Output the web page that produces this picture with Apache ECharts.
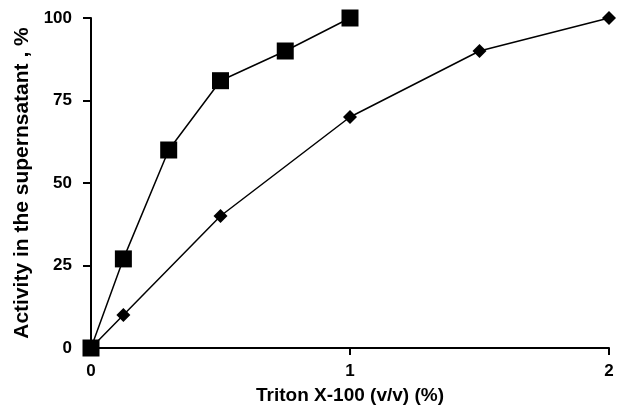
<!DOCTYPE html>
<html><head><meta charset="utf-8">
<script src="https://cdn.jsdelivr.net/npm/echarts@6/dist/echarts.min.js"></script>
<style>html,body{margin:0;padding:0;background:#fff}#c{width:617px;height:417px}</style>
</head><body><div id="c"></div>
<script>
const squareX = [0, 0.125, 0.3, 0.5, 0.75, 1];
const squareY = [0, 27, 60, 81, 90, 100];
const diamondX = [0, 0.125, 0.5, 1, 1.5, 2];
const diamondY = [0, 10, 40, 70, 90, 100];
const xTicks = [0, 1, 2];
const yTicks = [0, 25, 50, 75, 100];

const pairs = (xs, ys) => xs.map((x, i) => [x, ys[i]]);
const font = 'Liberation Sans, Arial, sans-serif';
const chart = echarts.init(document.getElementById('c'));
chart.setOption({
  animation: false,
  backgroundColor: '#fff',
  grid: {left: 91, right: 8, top: 18, bottom: 69, containLabel: false},
  xAxis: {
    type: 'value', min: xTicks[0], max: xTicks[xTicks.length - 1], interval: 1,
    name: 'Triton X-100 (v/v) (%)', nameLocation: 'middle', nameGap: 38,
    nameTextStyle: {fontFamily: font, fontWeight: 'bold', fontSize: 19, color: '#000'},
    axisLine: {lineStyle: {color: '#000', width: 2}},
    axisTick: {show: true, length: 7, lineStyle: {color: '#000', width: 2}},
    axisLabel: {fontFamily: font, fontWeight: 'bold', fontSize: 17, color: '#000', margin: 15},
    splitLine: {show: false}
  },
  yAxis: {
    type: 'value', min: yTicks[0], max: yTicks[yTicks.length - 1], interval: 25,
    name: 'Activity in the supernsatant , %', nameLocation: 'middle', nameGap: 55,
    nameTextStyle: {fontFamily: font, fontWeight: 'bold', fontSize: 21, color: '#000'},
    axisLine: {show: true, lineStyle: {color: '#000', width: 2}},
    axisTick: {show: true, length: 8, lineStyle: {color: '#000', width: 2}},
    axisLabel: {fontFamily: font, fontWeight: 'bold', fontSize: 17, color: '#000', margin: 19},
    splitLine: {show: false}
  },
  series: [
    {type: 'line', data: pairs(squareX, squareY), symbol: 'rect', symbolSize: 17,
     clip: false, z: 3,
     lineStyle: {color: '#000', width: 1.5}, itemStyle: {color: '#000'}},
    {type: 'line', data: pairs(diamondX, diamondY), symbol: 'diamond', symbolSize: 14,
     clip: false, z: 2,
     lineStyle: {color: '#000', width: 1.5}, itemStyle: {color: '#000'}}
  ]
});
</script></body></html>
